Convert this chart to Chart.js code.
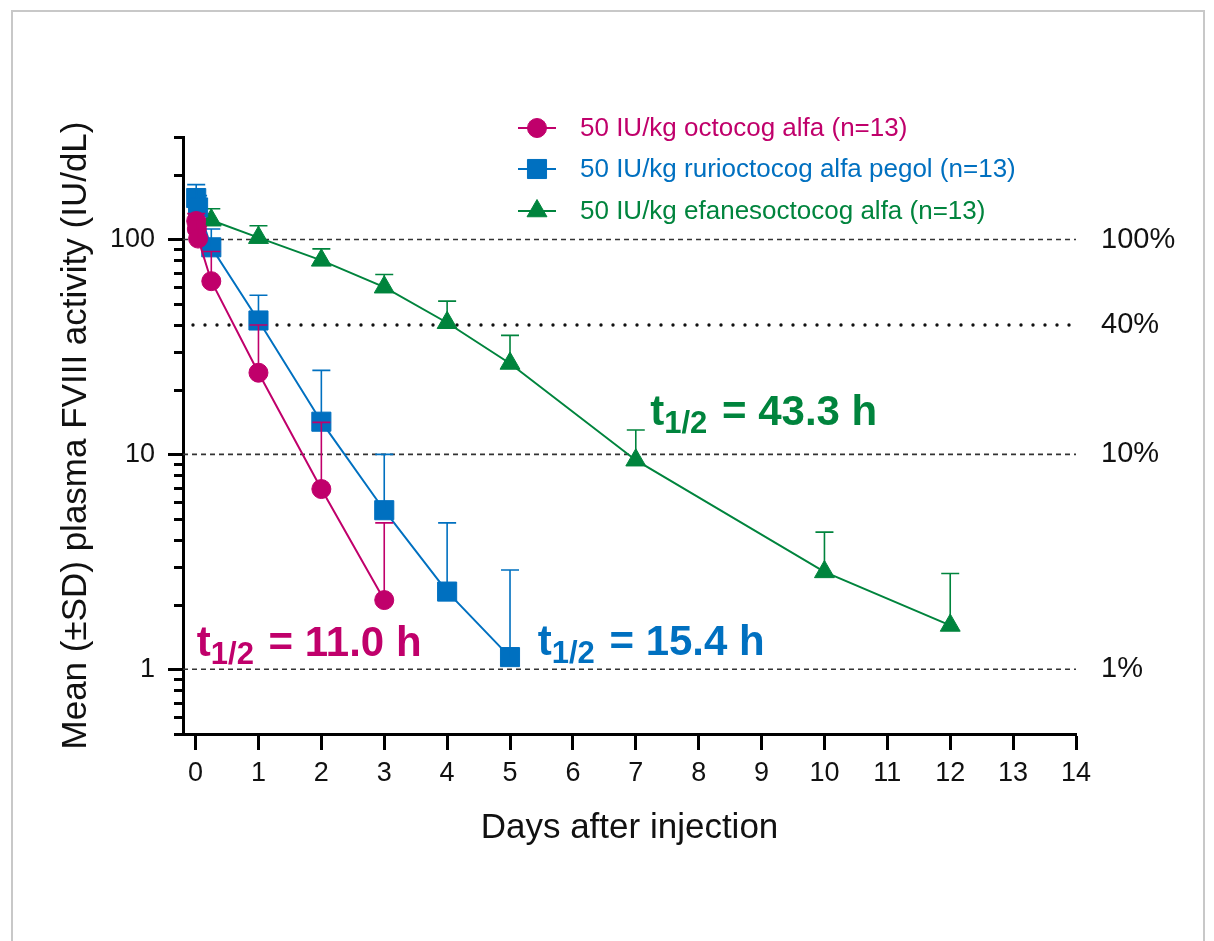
<!DOCTYPE html>
<html>
<head>
<meta charset="utf-8">
<title>FVIII activity</title>
<script src="https://cdn.jsdelivr.net/npm/chart.js@4.4.1/dist/chart.umd.min.js"></script>
<style>
  html, body { margin: 0; padding: 0; background: #fff; overflow: hidden; }
  #wrap { position: relative; width: 1214px; height: 941px; }
  #frame { position: absolute; left: 11px; top: 10px; width: 1190px; height: 1000px; border: 2px solid #c8c8c8; }
  canvas { position: absolute; left: 0; top: 0; }
</style>
</head>
<body>
<div id="wrap">
  <div id="frame"></div>
  <canvas id="chartPK" width="1214" height="941"></canvas>
</div>
<script>
// Values (mean and mean + SD)
const octoDays  = [0.01, 0.02, 0.04, 0.25, 1, 2, 3];
const octoMean  = [122, 112, 101, 64, 24, 6.9, 2.1];
const octoUpper = [132, 125, 115, 88, 40, 14.1, 4.8];

const rurioDays  = [0.01, 0.04, 0.25, 1, 2, 3, 4, 5];
const rurioMean  = [156, 141, 92, 42, 14.2, 5.5, 2.3, 1.14];
const rurioUpper = [180, 160, 112, 55, 24.6, 10, 4.8, 2.9];

const efaDays  = [0.25, 1, 2, 3, 4, 5, 7, 10, 12];
const efaMean  = [123, 102, 80, 60, 41, 26.5, 9.4, 2.84, 1.6];
const efaUpper = [139, 116, 90.5, 68.8, 51.7, 35.8, 13, 4.35, 2.79];

const seriesNames = [
  '50 IU/kg octocog alfa (n=13)',
  '50 IU/kg rurioctocog alfa pegol (n=13)',
  '50 IU/kg efanesoctocog alfa (n=13)'
];
const halfLives = ['11.0', '15.4', '43.3'];

const xTicks = [0, 1, 2, 3, 4, 5, 6, 7, 8, 9, 10, 11, 12, 13, 14];
const yTicks = [0.5, 0.6, 0.7, 0.8, 0.9, 1, 2, 3, 4, 5, 6, 7, 8, 9,
                10, 20, 30, 40, 50, 60, 70, 80, 90, 100, 200, 300];
const yMajor = [1, 10, 100];
const refValues = [100, 40, 10, 1];
const refLabels = ['100%', '40%', '10%', '1%'];

// Styles
const FONT = "'Liberation Sans', Arial, Helvetica, sans-serif";
const COLORS = ['#c0006b', '#0070c0', '#00843d'];
const STYLES = ['circle', 'rect', 'triangle'];
const RADII = [9.5, 13.5, 11.5];

// Text placement (data coordinates of the left/baseline of "t")
const notePos = [
  { x: 0.02, y: 1.15 },
  { x: 5.44, y: 1.17 },
  { x: 7.23, y: 13.7 }
];

const toPoints = (days, vals) => days.map((d, i) => ({ x: d, y: vals[i] }));

function makeSet(i, days, mean, upper) {
  return {
    label: seriesNames[i],
    data: toPoints(days, mean),
    upper: upper,
    borderColor: COLORS[i],
    backgroundColor: COLORS[i],
    borderWidth: 2,
    pointStyle: STYLES[i],
    pointRadius: RADII[i],
    pointBorderWidth: 1,
    pointBackgroundColor: COLORS[i],
    pointBorderColor: COLORS[i],
    tension: 0,
    fill: false
  };
}

// Reference lines (100 %, 40 %, 10 %, 1 %) behind the data
const refLines = {
  id: 'refLines',
  beforeDatasetsDraw(chart) {
    const { ctx, chartArea, scales: { y } } = chart;
    ctx.save();
    refValues.forEach((v, i) => {
      const py = y.getPixelForValue(v);
      ctx.beginPath();
      if (v === 40) {
        ctx.setLineDash([0, 12]);
        ctx.lineCap = 'round';
        ctx.lineWidth = 3.4;
        ctx.strokeStyle = '#111';
        ctx.moveTo(chartArea.left + 10, py);
        ctx.lineTo(chartArea.right - 4, py);
      } else {
        ctx.setLineDash([5, 4]);
        ctx.lineCap = 'butt';
        ctx.lineWidth = 1.6;
        ctx.strokeStyle = '#333';
        ctx.moveTo(chartArea.left, py);
        ctx.lineTo(chartArea.right, py);
      }
      ctx.stroke();
      ctx.setLineDash([]);
      ctx.fillStyle = '#111';
      ctx.font = '29px ' + FONT;
      ctx.textAlign = 'left';
      ctx.textBaseline = 'middle';
      ctx.fillText(refLabels[i], chartArea.right + 25, py);
    });
    ctx.restore();
  }
};

// Upper SD whiskers, drawn with each dataset
const errorBars = {
  id: 'errorBars',
  afterDatasetDraw(chart, args) {
    const ds = chart.data.datasets[args.index];
    const y = chart.scales.y;
    const ctx = chart.ctx;
    ctx.save();
    ctx.strokeStyle = ds.borderColor;
    ctx.lineWidth = 1.6;
    args.meta.data.forEach((pt, i) => {
      const top = y.getPixelForValue(ds.upper[i]);
      ctx.beginPath();
      ctx.moveTo(pt.x, pt.y);
      ctx.lineTo(pt.x, top);
      ctx.moveTo(pt.x - 9, top);
      ctx.lineTo(pt.x + 9, top);
      ctx.stroke();
    });
    ctx.restore();
  }
};

function marker(ctx, style, r, x, y, color) {
  ctx.fillStyle = color;
  ctx.strokeStyle = color;
  ctx.lineWidth = 1;
  if (Chart.helpers && Chart.helpers.drawPoint) {
    Chart.helpers.drawPoint(ctx, { pointStyle: style, radius: r, rotation: 0, borderWidth: 1 }, x, y);
    return;
  }
  ctx.beginPath();
  if (style === 'circle') ctx.arc(x, y, r, 0, Math.PI * 2);
  else if (style === 'rect') { const s = r * Math.SQRT1_2; ctx.rect(x - s, y - s, 2 * s, 2 * s); }
  else { ctx.moveTo(x, y - r); ctx.lineTo(x + r * 0.866, y + r / 2); ctx.lineTo(x - r * 0.866, y + r / 2); ctx.closePath(); }
  ctx.fill();
}

// Legend, minor ticks and half-life notes
const overlay = {
  id: 'overlay',
  afterDraw(chart) {
    const { ctx, chartArea, scales: { x, y } } = chart;
    ctx.save();

    // minor ticks on the log axis (shorter than the major ones)
    ctx.strokeStyle = '#000';
    ctx.lineWidth = 3;
    yTicks.filter(v => !yMajor.includes(v)).forEach(v => {
      const py = Math.round(y.getPixelForValue(v)) + 0.5;
      ctx.beginPath();
      ctx.moveTo(chartArea.left - 9, py);
      ctx.lineTo(chartArea.left, py);
      ctx.stroke();
    });

    // legend
    const rows = [128, 169, 211];
    chart.data.datasets.forEach((ds, i) => {
      const ry = rows[i];
      ctx.strokeStyle = COLORS[i];
      ctx.lineWidth = 2;
      ctx.beginPath();
      ctx.moveTo(518, ry);
      ctx.lineTo(556, ry);
      ctx.stroke();
      marker(ctx, STYLES[i], RADII[i], 537, ry, COLORS[i]);
      ctx.fillStyle = COLORS[i];
      ctx.font = '26px ' + FONT;
      ctx.textAlign = 'left';
      ctx.textBaseline = 'middle';
      ctx.fillText(ds.label, 580, ry + 1);
    });

    // t1/2 notes
    notePos.forEach((p, i) => {
      let px = x.getPixelForValue(p.x);
      const py = y.getPixelForValue(p.y);
      ctx.fillStyle = COLORS[i];
      ctx.textAlign = 'left';
      ctx.textBaseline = 'alphabetic';
      ctx.font = 'bold 42px ' + FONT;
      ctx.fillText('t', px, py);
      px += ctx.measureText('t').width;
      ctx.font = 'bold 31px ' + FONT;
      ctx.fillText('1/2', px, py + 8);
      px += ctx.measureText('1/2').width + 3;
      ctx.font = 'bold 42px ' + FONT;
      ctx.fillText(' = ' + halfLives[i] + ' h', px, py);
    });
    ctx.restore();
  }
};

const pkCtx = document.getElementById('chartPK');
new Chart(pkCtx, {
  type: 'line',
  data: {
    datasets: [
      makeSet(0, octoDays, octoMean, octoUpper),
      makeSet(1, rurioDays, rurioMean, rurioUpper),
      makeSet(2, efaDays, efaMean, efaUpper)
    ]
  },
  options: {
    responsive: false,
    animation: false,
    events: [],
    layout: { padding: { left: 0, top: 137, right: 138, bottom: 87 } },
    plugins: { legend: { display: false }, tooltip: { enabled: false } },
    scales: {
      x: {
        type: 'linear',
        min: -0.2,
        max: 14,
        afterBuildTicks: s => { s.ticks = xTicks.map(v => ({ value: v })); },
        afterFit: s => { s.height = 120; },
        grid: { drawOnChartArea: false, tickLength: 16, tickWidth: 3, tickColor: '#000' },
        border: { color: '#000', width: 3 },
        ticks: {
          autoSkip: false, maxRotation: 0, padding: 7, color: '#111',
          font: { size: 27, family: FONT },
          callback: v => String(v)
        },
        title: {
          display: true, text: 'Days after injection', color: '#111',
          font: { size: 35, family: FONT }, padding: { top: 0, bottom: 5 }
        }
      },
      y: {
        type: 'logarithmic',
        min: 0.5,
        max: 300,
        afterBuildTicks: s => { s.ticks = yTicks.map(v => ({ value: v })); },
        afterFit: s => { s.width = 183; },
        grid: {
          drawOnChartArea: false, tickLength: 15, tickWidth: 3,
          tickColor: c => (c.tick && yMajor.includes(c.tick.value)) ? '#000' : 'rgba(0,0,0,0)'
        },
        border: { color: '#000', width: 3 },
        ticks: {
          autoSkip: false, padding: 13, color: '#111',
          font: { size: 27, family: FONT },
          callback: v => yMajor.includes(v) ? String(v) : ''
        },
        title: {
          display: true, text: 'Mean (±SD) plasma FVIII activity (IU/dL)', color: '#111',
          font: { size: 35, family: FONT }, padding: { top: 55, bottom: 0 }
        }
      }
    }
  },
  plugins: [refLines, errorBars, overlay]
});
</script>
</body>
</html>
